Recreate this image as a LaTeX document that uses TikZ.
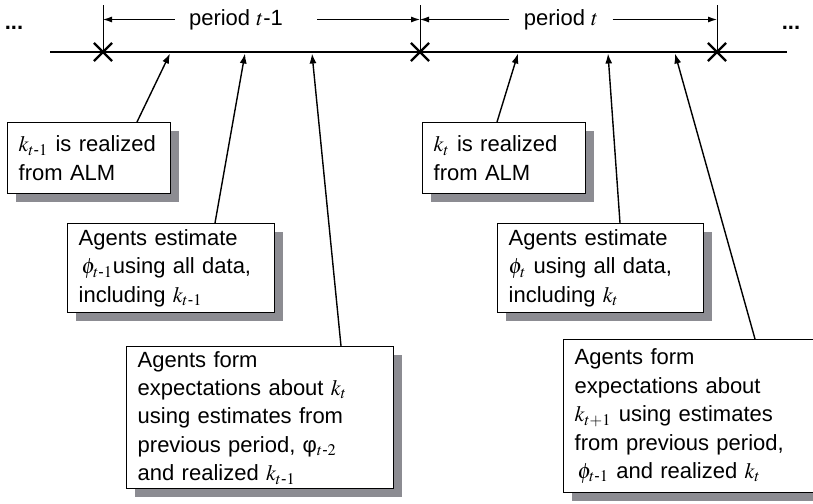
\documentclass[tikz,border=0pt]{standalone}
\usepackage{amsmath}
\usepackage{mathptmx}
\usepackage[no-math]{fontspec}
\setmainfont{Liberation Sans}
\usetikzlibrary{arrows.meta,shadows,shapes.misc}
\definecolor{shadegray}{RGB}{140,140,146}
\tikzset{
  box/.style={draw, line width=0.7pt, fill=white, anchor=north west, align=left,
    inner xsep=5.5pt, inner ysep=2pt, font=\fontsize{11}{14.2}\selectfont,
    drop shadow={shadow xshift=4pt, shadow yshift=-4pt, opacity=1, fill=shadegray}},
  link/.style={line width=0.7pt, -{Latex[length=5pt,width=3.5pt]}},
  dimline/.style={line width=0.5pt, -{Latex[length=4.5pt,width=3pt]}},
  tickline/.style={line width=0.5pt},
  xmark/.style={draw, cross out, line width=1.1pt, minimum size=8pt, inner sep=0pt},
  label/.style={font=\fontsize{11}{14}\selectfont, inner xsep=7pt}
}

\begin{document}
\begin{tikzpicture}[x=0.5pt, y=-0.5pt]
        \useasboundingbox (0,0) rectangle (813,503);
\coordinate (lineL) at (50,52); % TimeAxis.start
\coordinate (lineR) at (787,52); % TimeAxis.end
\draw[line width=1pt] (lineL) -- (lineR); % TimeAxis
\coordinate (tk1) at (103,5); % Tick.0
\coordinate (tk2) at (420,5); % Tick.1
\coordinate (tk3) at (717,5); % Tick.2
\node[xmark] (c1) at (103,52) {}; % Cross.0
\node[xmark] (c2) at (420,52) {}; % Cross.1
\node[xmark] (c3) at (717,52) {}; % Cross.2
\draw[tickline] (tk1) -- (c1.center); % Tick.0
\draw[tickline] (tk2) -- (c2.center); % Tick.1
\draw[tickline] (tk3) -- (c3.center); % Tick.2
\node[label] (dotsL) at (14,28) {\textbf{...}}; % Dots.left
\node[label] (dotsR) at (791,28) {\textbf{...}}; % Dots.right
\node[label] (p1) at (236,19.5) {period $t$-1}; % Period.0
\node[label] (p2) at (561,19.5) {period $t$}; % Period.1
\draw[dimline] (p1.west) -- (tk1 |- p1.west); % Period.0
\draw[dimline] ([xshift=10pt]p1.east) -- (tk2 |- p1.east); % Period.0
\draw[dimline] (p2.west) -- (tk2 |- p2.west); % Period.1
\draw[dimline] (p2.east) -- (tk3 |- p2.east); % Period.1
\coordinate (e1) at (170,53.5); % Event.0
\coordinate (e2) at (245,53.5); % Event.1
\coordinate (e3) at (312,53.5); % Event.2
\coordinate (e4) at (518,53.5); % Event.3
\coordinate (e5) at (608,53.5); % Event.4
\coordinate (e6) at (675,53.5); % Event.5
\node[box, text width=70.5pt, minimum height=35.5pt] (b1) at (7,122) {$k_{t\text{-}1}$ is realized\\from ALM}; % Box.0
\node[box, text width=92.5pt, minimum height=44.5pt] (b2) at (67,223) {Agents estimate\\\hspace{1.5pt}$\phi_{t\text{-}1}$using all data,\\including $k_{t\text{-}1}$}; % Box.1
\node[box, text width=122.5pt, minimum height=71pt] (b3) at (126,346) {Agents form\\expectations about $k_t$\\using estimates from\\previous period, φ$_{t\text{-}2}$\\and realized $k_{t\text{-}1}$}; % Box.2
\node[box, text width=70.5pt, minimum height=35.5pt] (b4) at (422,122) {$k_t$ is realized\\from ALM}; % Box.3
\node[box, text width=92pt, minimum height=44.5pt] (b5) at (497,223) {Agents estimate\\$\phi_t$ using all data,\\including $k_t$}; % Box.4
\node[box, text width=119pt, minimum height=76.5pt] (b6) at (563,339) {Agents form\\expectations about\\$k_{t+1}$ using estimates\\from previous period,\\\hspace{1.5pt}$\phi_{t\text{-}1}$ and realized $k_t$}; % Box.5
\draw[link] ([xshift=65pt]b1.north west) -- (e1); % Box.0
\draw[link] ([xshift=74pt]b2.north west) -- (e2); % Box.1
\draw[link] ([xshift=107.5pt]b3.north west) -- (e3); % Box.2
\draw[link] ([xshift=37.5pt]b4.north west) -- (e4); % Box.3
\draw[link] ([xshift=61.5pt]b5.north west) -- (e5); % Box.4
\draw[link] ([xshift=96pt]b6.north west) -- (e6); % Box.5

        \end{tikzpicture}
\end{document}
